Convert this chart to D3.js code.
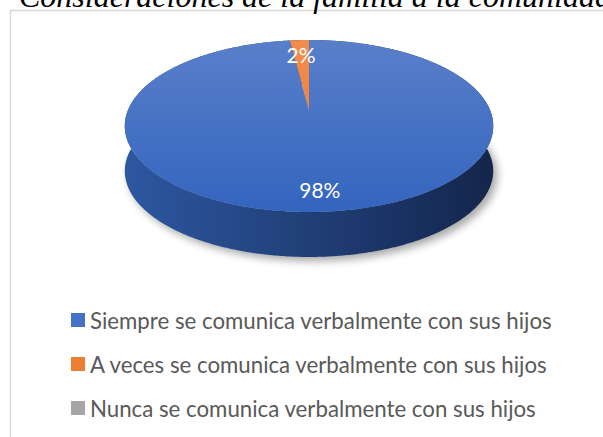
<!DOCTYPE html>
<html>
<head>
<meta charset="utf-8">
<script src="https://cdn.jsdelivr.net/npm/d3@7"></script>
<style>
  body { margin: 0; background: #fff; overflow: hidden; }
  svg { display: block; }
</style>
</head>
<body>
<div id="chart"></div>
<script>
const WIDTH = 603
const HEIGHT = 437

// data
const TITLE = "Consideraciones de la familia a la comunidad"
const categories = [
  "Siempre se comunica verbalmente con sus hijos",
  "A veces se comunica verbalmente con sus hijos",
  "Nunca se comunica verbalmente con sus hijos"
]
const values = [98, 2, 0]
const colors = ["#4472c4", "#ed7d31", "#a5a5a5"]

// 3d pie geometry
const CX = 309
const CY = 110
const RX = 181
const RY = 83
const DEPTH = 45
const K = 0.186 // perspective

const project = (a, r, dy = 0) => {
  const u = r * Math.sin(a)
  const t = -r * Math.cos(a)
  const s = 1 / (1 - K * t)
  return [CX + RX * u * s, CY + RY * t * s + dy]
}

const rimPoints = (a0, a1, dy) => {
  const n = Math.max(2, Math.ceil((a1 - a0) / 0.01))
  return d3.range(n + 1).map(i => project(a0 + (a1 - a0) * i / n, 1, dy))
}

const svg = d3.select("#chart")
  .append("svg")
  .attr("width", WIDTH)
  .attr("height", HEIGHT)
  .style("font-family", "Lato, 'Open Sans', sans-serif")

const defs = svg.append("defs")

const sideGrad = defs.append("linearGradient")
  .attr("id", "side-grad")
  .attr("gradientUnits", "userSpaceOnUse")
  .attr("x1", CX - RX).attr("x2", CX + RX)
  .attr("y1", 0).attr("y2", 0)
sideGrad.selectAll("stop")
  .data([["0", "#2d57a1"], ["0.4", "#23447f"], ["0.75", "#1a3263"], ["1", "#14264b"]])
  .join("stop")
  .attr("offset", d => d[0])
  .attr("stop-color", d => d[1])

const topGrads = [["#5c81ca", "#3465bf"], ["#f28e50", "#ec7a2c"], ["#b5b5b5", "#999"]]
topGrads.forEach((c, i) => {
  const g = defs.append("linearGradient")
    .attr("id", "top-grad-" + i)
    .attr("gradientUnits", "userSpaceOnUse")
    .attr("x1", 0).attr("x2", 0)
    .attr("y1", CY - RY).attr("y2", CY + RY * 1.2)
  g.append("stop").attr("offset", 0).attr("stop-color", c[0])
  g.append("stop").attr("offset", 1).attr("stop-color", c[1])
})

defs.append("filter")
  .attr("id", "shadow")
  .attr("x", "-20%").attr("y", "-20%").attr("width", "140%").attr("height", "140%")
  .append("feGaussianBlur")
  .attr("stdDeviation", 4)

// chart area border
svg.append("rect")
  .attr("x", 10.5)
  .attr("y", 10.5)
  .attr("width", 800)
  .attr("height", 600)
  .attr("fill", "none")
  .attr("stroke", "#d9d9d9")
  .attr("stroke-width", 1.5)

// title (cut off by the top of the picture)
svg.append("text")
  .attr("x", 19)
  .attr("y", 7)
  .attr("font-family", "'Liberation Serif', 'Times New Roman', serif")
  .attr("font-style", "italic")
  .attr("font-size", 32)
  .attr("fill", "#000")
  .text(TITLE)

const line = d3.line()

const pie = d3.pie()
  .sort(null)
  .value(d => d)
  .startAngle(0)
  .endAngle(2 * Math.PI)

const arcs = pie(values).filter(d => d.endAngle > d.startAngle)

const pieG = svg.append("g")

// soft shadow under the side
pieG.append("path")
  .attr("d", line(rimPoints(0, 2 * Math.PI, DEPTH + 4)) + "Z")
  .attr("transform", "translate(4,0)")
  .attr("fill", "#000")
  .attr("opacity", 0.35)
  .attr("filter", "url(#shadow)")

// side walls
pieG.selectAll("path.side")
  .data(arcs)
  .join("path")
  .attr("class", "side")
  .attr("d", d => {
    const top = rimPoints(d.startAngle, d.endAngle, 0)
    const bottom = rimPoints(d.startAngle, d.endAngle, DEPTH).reverse()
    return line(top.concat(bottom)) + "Z"
  })
  .attr("fill", "url(#side-grad)")

// top faces
pieG.selectAll("path.top")
  .data(arcs)
  .join("path")
  .attr("class", "top")
  .attr("d", d => line([project(0, 0)].concat(rimPoints(d.startAngle, d.endAngle, 0))) + "Z")
  .attr("fill", d => `url(#top-grad-${d.index})`)

// data labels
pieG.selectAll("text.label")
  .data(arcs)
  .join("text")
  .attr("class", "label")
  .attr("x", d => project((d.startAngle + d.endAngle) / 2, 0.81)[0])
  .attr("y", d => project((d.startAngle + d.endAngle) / 2, 0.81)[1] + (d.index == 0 ? 4 : 6))
  .attr("text-anchor", "middle")
  .attr("dominant-baseline", "middle")
  .attr("font-size", 21)
  .attr("fill", "#fff")
  .text(d => d3.format(".0%")(d.value / d3.sum(values)))

// legend
const legend = svg.append("g")
  .attr("transform", "translate(71,320)")

const item = legend.selectAll("g")
  .data(categories)
  .join("g")
  .attr("transform", (d, i) => `translate(0,${i * 44})`)

item.append("rect")
  .attr("x", 0)
  .attr("y", -7)
  .attr("width", 14)
  .attr("height", 14)
  .attr("fill", (d, i) => colors[i])

const legendText = item.append("text")
  .attr("x", 19)
  .attr("y", 0)
  .attr("dominant-baseline", "central")
  .attr("font-size", 20)
  .attr("fill", "#595959")
  .text(d => d)

// fit legend font so the first row spans like the original
const w = legendText.node().getComputedTextLength()
legendText.attr("font-size", 20 * 462 / w)
</script>
</body>
</html>
